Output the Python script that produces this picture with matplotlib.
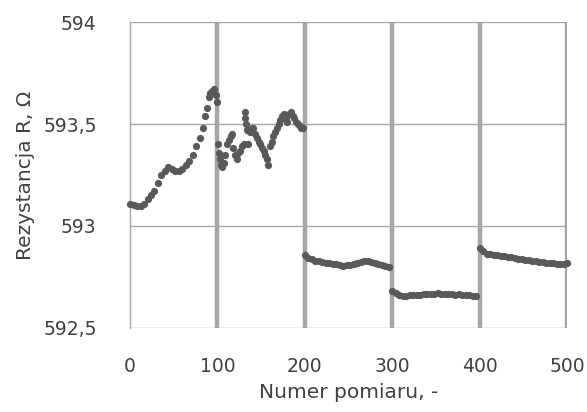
import matplotlib
matplotlib.use("Agg")
import matplotlib.pyplot as plt
import numpy as np

# segment 1 (0-100), every 4 measurements
x1 = [0, 4, 8, 12, 16, 20, 24, 28, 32, 36, 40, 44, 48, 52, 56, 60, 64, 68, 72,
      76, 80, 84, 86, 88, 90, 92, 94, 96, 98, 99]
y1 = [593.11, 593.105, 593.10, 593.10, 593.11, 593.13, 593.15, 593.17, 593.21,
      593.25, 593.27, 593.29, 593.28, 593.27, 593.27, 593.28, 593.30, 593.32,
      593.35, 593.39, 593.43, 593.48, 593.54, 593.58, 593.63, 593.65, 593.66,
      593.67, 593.64, 593.61]

# segment 2 (100-200), scattered
x2 = [101, 102, 103, 104, 105, 107, 109, 111, 113, 115, 117, 118, 120, 122, 124,
      126, 128, 130, 131, 132, 133, 134, 135, 137, 139, 141, 143, 145, 147, 149,
      151, 153, 155, 157, 158, 160, 162, 164, 166, 168, 170, 172, 174, 176, 178,
      180, 182, 184, 186, 188, 190, 192, 194, 196, 198]
y2 = [593.40, 593.36, 593.33, 593.30, 593.29, 593.31, 593.35, 593.40, 593.42,
      593.44, 593.45, 593.38, 593.35, 593.33, 593.36, 593.37, 593.39, 593.40,
      593.56, 593.53, 593.50, 593.47, 593.40, 593.46, 593.48, 593.48, 593.45,
      593.43, 593.41, 593.40, 593.38, 593.37, 593.35, 593.33, 593.30, 593.39,
      593.41, 593.44, 593.46, 593.48, 593.50, 593.52, 593.54, 593.55, 593.53,
      593.51, 593.55, 593.56, 593.54, 593.53, 593.51, 593.50, 593.49, 593.48,
      593.48]

# segment 3 (200-300)
x3 = list(range(200, 300, 4))
y3 = [592.86, 592.845, 592.84, 592.83, 592.83, 592.825, 592.82, 592.82, 592.815,
      592.815, 592.81, 592.805, 592.81, 592.81, 592.815, 592.82, 592.825, 592.83,
      592.83, 592.825, 592.82, 592.815, 592.81, 592.805, 592.80]

# segment 4 (300-400)
x4 = list(range(300, 400, 4))
y4 = [592.68, 592.67, 592.66, 592.655, 592.655, 592.66, 592.66, 592.66, 592.66,
      592.665, 592.665, 592.665, 592.665, 592.67, 592.665, 592.665, 592.665,
      592.665, 592.66, 592.665, 592.66, 592.66, 592.66, 592.655, 592.655]

# segment 5 (400-500)
x5 = list(range(400, 501, 4))
y5 = [592.89, 592.875, 592.865, 592.865, 592.86, 592.86, 592.855, 592.855,
      592.85, 592.85, 592.845, 592.84, 592.84, 592.835, 592.835, 592.83, 592.83,
      592.825, 592.825, 592.82, 592.82, 592.82, 592.815, 592.815, 592.815, 592.82]

xticks = [0, 100, 200, 300, 400, 500]
yticks = [592.5, 593.0, 593.5, 594.0]
ytick_labels = ["592,5", "593", "593,5", "594"]

txt = "#404040"
fig = plt.figure(figsize=(5.87, 4.12), dpi=100)
ax = fig.add_axes([0.2215, 0.204, 0.7445, 0.7425])

for v in yticks:
    ax.axhline(v, color="#a6a6a6", lw=1.0, zorder=1)
for v in xticks[1:]:
    ax.axvline(v, color="#a6a6a6", lw=3.2, zorder=1)

xs = x1 + x2 + x3 + x4 + x5
ys = y1 + y2 + y3 + y4 + y5
ax.plot(xs, ys, "o", color="#595959", ms=5.2, mec="none", zorder=3, clip_on=False)

ax.set_xlim(0, 500)
ax.set_ylim(592.5, 594)
ax.set_xticks(xticks)
ax.set_xticklabels([str(t) for t in xticks], fontsize=13.5, color=txt)
ax.set_yticks(yticks)
ax.set_yticklabels(ytick_labels, fontsize=13.5, color=txt)
ax.tick_params(length=0)
ax.tick_params(axis="y", pad=24)
ax.tick_params(axis="x", pad=21)

for s in ["top", "right", "bottom"]:
    ax.spines[s].set_visible(False)
ax.spines["left"].set_color("#a6a6a6")
ax.spines["left"].set_linewidth(1.0)

ax.set_xlabel("Numer pomiaru, -", fontsize=14.5, color=txt, labelpad=5)
ax.set_ylabel("Rezystancja R, Ω", fontsize=14.5, color=txt, labelpad=6)

fig.savefig("out.png", dpi=100)
